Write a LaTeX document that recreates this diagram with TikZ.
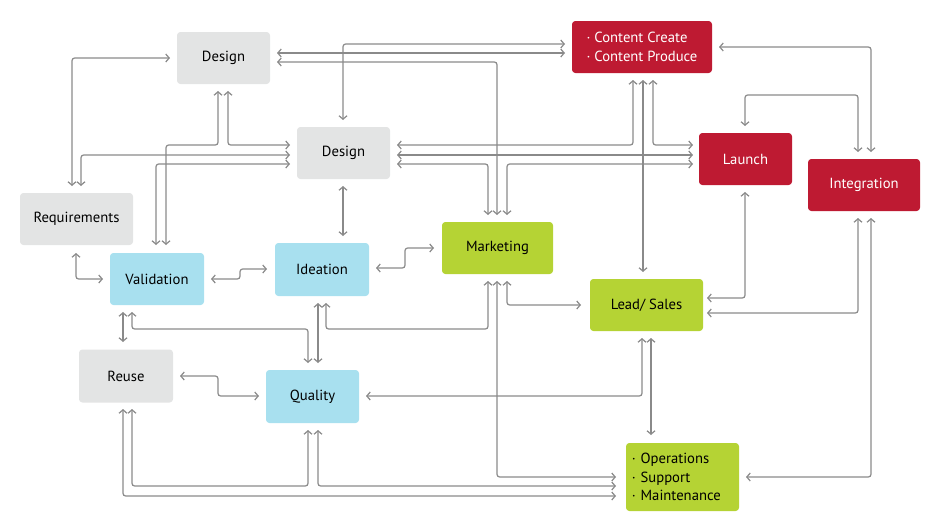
\documentclass[tikz,border=0pt]{standalone}
\usepackage{fontspec}
\setmainfont{PT Sans}
\usetikzlibrary{arrows.meta}
\definecolor{bgray}{HTML}{E3E4E4}
\definecolor{bblue}{HTML}{A8E0EF}
\definecolor{bgreen}{HTML}{B5D334}
\definecolor{bred}{HTML}{BE1A32}
\definecolor{lgray}{HTML}{8A8A8A}
\begin{document}
\begin{tikzpicture}[x=0.75pt,y=-0.75pt,
 box/.style={draw=none,rounded corners=2.5pt,inner sep=0pt,font=\fontsize{11}{14}\selectfont},
 gb/.style={box,fill=bgray},
 bb/.style={box,fill=bblue},
 grb/.style={box,fill=bgreen},
 rb/.style={box,fill=bred,text=white},
 c/.style={draw=lgray,line width=0.9pt,rounded corners=2pt,{Straight Barb[length=2.6pt,width=6pt]}-{Straight Barb[length=2.6pt,width=6pt]}}]
\useasboundingbox (0,0) rectangle (943,532);
% nodes
\node[gb,minimum width=69.75pt,minimum height=39pt] (d1) at (223.5,58) {Design};
\node[gb,minimum width=69.75pt,minimum height=39pt] (d2) at (343.5,153) {Design};
\node[gb,minimum width=84.75pt,minimum height=39pt] (req) at (76.5,219) {Requirements};
\node[bb,minimum width=70.5pt,minimum height=39pt] (val) at (157,279) {Validation};
\node[bb,minimum width=70.5pt,minimum height=39.75pt] (ide) at (322,269.5) {Ideation};
\node[grb,minimum width=83.25pt,minimum height=39pt] (mkt) at (497.5,248) {Marketing};
\node[rb,minimum width=105pt,minimum height=39pt,align=left] (cont) at (642,47) {· Content Create\\· Content Produce};
\node[rb,minimum width=69.75pt,minimum height=39pt] (lau) at (745.5,159) {Launch};
\node[rb,minimum width=84pt,minimum height=39pt] (intg) at (864,185) {Integration};
\node[grb,minimum width=84.75pt,minimum height=39pt] (lead) at (646.5,305) {Lead/ Sales};
\node[gb,minimum width=70.5pt,minimum height=39.75pt] (reuse) at (126,376) {Reuse};
\node[bb,minimum width=69.75pt,minimum height=39.75pt] (qual) at (312.5,396.5) {Quality};
\node[grb,minimum width=84.75pt,minimum height=51pt,align=left,text width=76pt] (ops) at (682.5,477) {· Operations\\· Support\\· Maintenance};
% ports
\coordinate (rq1) at (72,186); \coordinate (rq2) at (81,186); \coordinate (rq3) at (76,253);
\coordinate (d1w) at (170,58); \coordinate (d1s1) at (218,91); \coordinate (d1s2) at (228,91);
\coordinate (d1e1) at (277,53); \coordinate (d1e2) at (277,62);
\coordinate (d2w1) at (290,145); \coordinate (d2w2) at (290,155); \coordinate (d2w3) at (290,164);
\coordinate (d2e1) at (397,145); \coordinate (d2e2) at (397,155); \coordinate (d2e3) at (397,164);
\coordinate (d2n) at (343,120); \coordinate (d2s) at (343,186);
\coordinate (v1) at (156,245); \coordinate (v2) at (166,245); \coordinate (vw) at (103,279);
\coordinate (ve) at (211,279); \coordinate (vs1) at (123,312); \coordinate (vs2) at (132,312);
\coordinate (iw) at (267,269); \coordinate (ie) at (376,268); \coordinate (in) at (343,236);
\coordinate (is1) at (318,303); \coordinate (is2) at (326,303);
\coordinate (mw) at (434,248); \coordinate (m1) at (488,215); \coordinate (m2) at (497,215); \coordinate (m3) at (507,215);
\coordinate (mb1) at (488,281); \coordinate (mb2) at (497,281); \coordinate (mb3) at (507,281);
\coordinate (c1) at (565,44); \coordinate (c2) at (565,53); \coordinate (ce) at (719,47);
\coordinate (cb1) at (633,80); \coordinate (cb2) at (643,80); \coordinate (cb3) at (653,80);
\coordinate (l1) at (693,145); \coordinate (l2) at (693,155); \coordinate (l3) at (693,164);
\coordinate (ln) at (745,126); \coordinate (ls) at (745,192);
\coordinate (g1) at (858,152); \coordinate (g2) at (871,152); \coordinate (gb1) at (858,218); \coordinate (gb2) at (871,218);
\coordinate (lw) at (581,305); \coordinate (lt) at (643,272); \coordinate (lr1) at (707,298); \coordinate (lr2) at (707,313);
\coordinate (lb1) at (642,338); \coordinate (lb2) at (651,338);
\coordinate (rt) at (123,342); \coordinate (re) at (180,376); \coordinate (rb1) at (123,409); \coordinate (rb2) at (132,409);
\coordinate (qw) at (259,396); \coordinate (qe) at (366,396); \coordinate (qt1) at (308,363); \coordinate (qt2) at (318,363);
\coordinate (qb1) at (308,430); \coordinate (qb2) at (318,430);
\coordinate (o1) at (616,477); \coordinate (o2) at (616,486); \coordinate (o3) at (616,496); \coordinate (ot) at (651,435); \coordinate (oe) at (746,477);
% connectors
\draw[c] (rq1) |- (d1w);
\draw[c] (rq2) |- (d2w2);
\draw[c] (d1s1) |- (166,145) -- (v2);
\draw[c] (d1s2) |- (d2w1);
\draw[c] (v1) |- (d2w3);
\draw[c] (d2n) |- (c1);
\draw[c] (d1e1) -- (c2);
\draw[c] (d1e2) -| (m2);
\draw[c] (d2e1) -| (cb1);
\draw[c] (d2e2) -- (l2);
\draw[c] (d2e3) -| (m1);
\draw[c] (m3) |- (l3);
\draw[c] (cb2) -- (lt);
\draw[c] (cb3) |- (l1);
\draw[c] (ce) -| (g2);
\draw[c] (ln) -- (745,95) -- (858,95) -- (g1);
\draw[c] (ls) |- (lr1);
\draw[c] (gb1) |- (lr2);
\draw[c] (gb2) |- (oe);
\draw[c] (d2s) -- (in);
\draw[c] (ie) -- (405,268) -- (405,248) -- (mw);
\draw[c] (ve) -- (240,279) -- (240,269) -- (iw);
\draw[c] (rq3) |- (vw);
\draw[c] (vs1) -- (rt);
\draw[c] (vs2) |- (308,329) -- (qt1);
\draw[c] (is1) -- (qt2);
\draw[c] (mb1) -- (488,329) -- (326,329) -- (is2);
\draw[c] (mb2) |- (o1);
\draw[c] (mb3) |- (lw);
\draw[c] (lb1) |- (qe);
\draw[c] (lb2) -- (ot);
\draw[c] (re) -- (218,376) -- (218,396) -- (qw);
\draw[c] (qb1) -- (308,486) -- (132,486) -- (rb2);
\draw[c] (qb2) |- (o2);
\draw[c] (rb1) |- (o3);
\end{tikzpicture}
\end{document}
